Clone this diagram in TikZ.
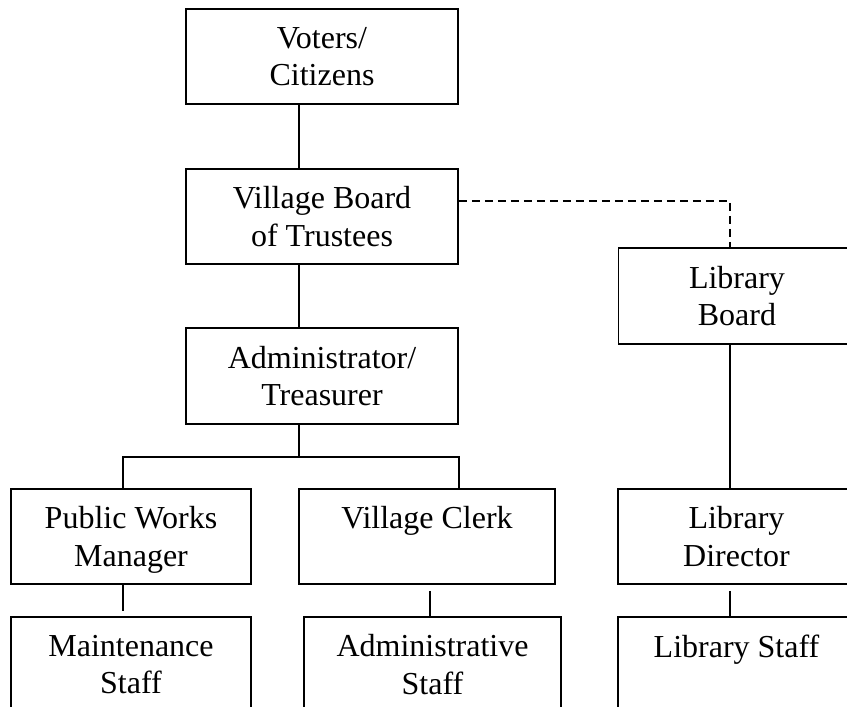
\documentclass[tikz,border=0pt]{standalone}
\usepackage{fontspec}
\setmainfont{Liberation Serif}
\tikzset{
  orgbox/.style={draw,line width=1.3pt,align=center,inner sep=0pt,text depth=0pt,
    font=\fontsize{24}{28}\selectfont,minimum height=71.25pt},
  link/.style={line width=1pt},
}
\begin{document}
\begin{tikzpicture}[x=0.75pt,y=-0.75pt]
\clip (0,0) rectangle (847,707);
\coordinate (colpw) at (123,0);
\coordinate (spine) at (299,0);
\coordinate (colas) at (430,0);
\coordinate (colvc) at (459,0);
\coordinate (collib) at (730,0);
\coordinate (bar) at (0,457);
\coordinate (dashturn) at (730,201);
\node[orgbox,minimum width=204pt] (voters) at (322,56.5) {Voters/\\Citizens};
\node[orgbox,minimum width=204pt] (board) at (322,216.5) {Village Board\\of Trustees};
\node[orgbox,minimum width=204pt,minimum height=72pt] (admin) at (322,376) {Administrator/\\Treasurer};
\node[orgbox,minimum width=177.75pt,minimum height=72pt] (libboard) at (737,296) {Library\\Board};
\node[orgbox,minimum width=180pt] (pubworks) at (131,536.5) {Public Works\\Manager};
\node[orgbox,minimum width=192pt] (clerk) at (427,536.5) {Village Clerk\\\strut};
\node[orgbox,minimum width=177.75pt] (libdir) at (736.5,536.5) {Library\\Director};
\node[orgbox,minimum width=180pt] (maint) at (131,664.5) {Maintenance\\Staff};
\node[orgbox,minimum width=192.75pt] (adminstaff) at (432.5,664.5) {Administrative\\Staff};
\node[orgbox,minimum width=177.75pt] (libstaff) at (736.5,664.5) {Library Staff\\\strut};
\draw[link] (voters.south -| spine) -- (board.north -| spine);
\draw[link] (board.south -| spine) -- (admin.north -| spine);
\draw[link] (admin.south -| spine) -- (bar -| spine);
\draw[link] (pubworks.north -| colpw) -- (bar -| colpw) -- (bar -| colvc) -- (clerk.north -| colvc);
\draw[link,dash pattern=on 6pt off 3.75pt] (board.east |- dashturn) -- (dashturn) -- (libboard.north -| dashturn);
\draw[link] (libboard.south -| collib) -- (libdir.north -| collib);
\draw[link,shorten >=3.75pt] (pubworks.south -| colpw) -- (maint.north -| colpw);
\draw[link,shorten <=4.5pt] (clerk.south -| colas) -- (adminstaff.north -| colas);
\draw[link,shorten <=4.5pt] (libdir.south -| collib) -- (libstaff.north -| collib);
\end{tikzpicture}
\end{document}
